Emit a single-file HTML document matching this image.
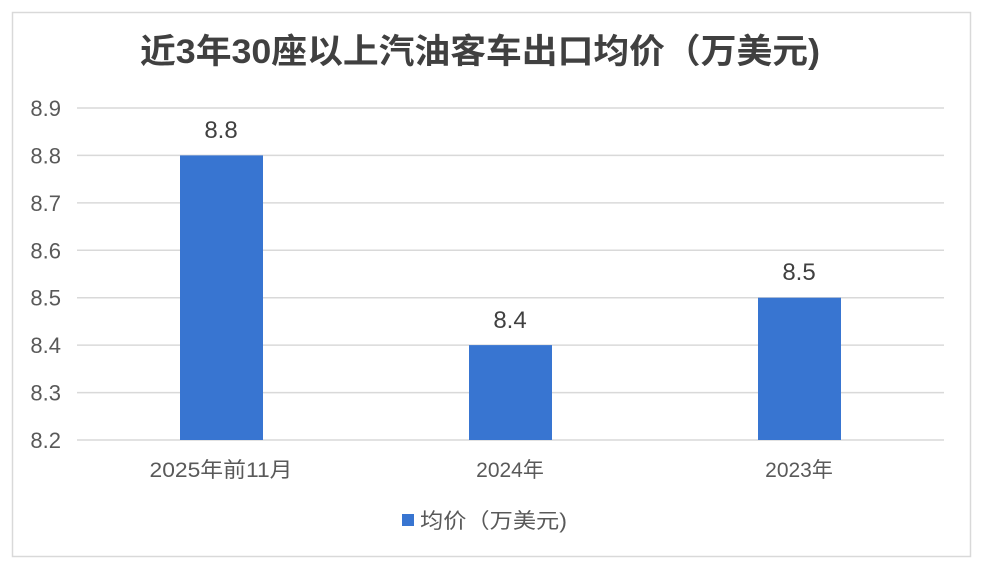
<!DOCTYPE html>
<html><head><meta charset="utf-8"><style>
body{margin:0;background:#fff;width:984px;height:574px;overflow:hidden}
svg text{font-family:"Liberation Sans","Noto Sans CJK SC",sans-serif}
</style></head><body>
<svg width="984" height="574" xmlns="http://www.w3.org/2000/svg">
<rect x="12.5" y="12.5" width="958" height="544" fill="#fff" stroke="#d9d9d9" stroke-width="1.5"/>
<text x="480" y="63" text-anchor="middle" font-size="34" font-weight="bold" fill="#404040" textLength="680" lengthAdjust="spacingAndGlyphs">近3年30座以上汽油客车出口均价（万美元)</text>
<g stroke="#d9d9d9" stroke-width="1.5">
<line x1="77" x2="944" y1="108" y2="108"/>
<line x1="77" x2="944" y1="155.4" y2="155.4"/>
<line x1="77" x2="944" y1="202.9" y2="202.9"/>
<line x1="77" x2="944" y1="250.3" y2="250.3"/>
<line x1="77" x2="944" y1="297.7" y2="297.7"/>
<line x1="77" x2="944" y1="345.1" y2="345.1"/>
<line x1="77" x2="944" y1="392.6" y2="392.6"/>
<line x1="77" x2="944" y1="440" y2="440"/>
</g>
<g font-size="22" fill="#595959" text-anchor="end">
<text x="61" y="116">8.9</text><text x="61" y="163.4">8.8</text><text x="61" y="210.9">8.7</text><text x="61" y="258.3">8.6</text><text x="61" y="305.7">8.5</text><text x="61" y="353.1">8.4</text><text x="61" y="400.6">8.3</text><text x="61" y="448">8.2</text>
</g>
<g fill="#3875d1">
<rect x="180" y="155.4" width="83" height="284.6"/>
<rect x="469" y="345.1" width="83" height="94.9"/>
<rect x="758" y="297.7" width="83" height="142.3"/>
</g>
<g font-size="24" fill="#404040" text-anchor="middle">
<text x="221" y="138">8.8</text><text x="510" y="328">8.4</text><text x="799" y="280">8.5</text>
</g>
<g font-size="21" fill="#595959" text-anchor="middle">
<text x="221" y="477" textLength="143" lengthAdjust="spacingAndGlyphs">2025年前11月</text><text x="510" y="477">2024年</text><text x="799" y="477">2023年</text>
</g>
<rect x="402" y="514" width="12" height="12" fill="#3875d1"/>
<text x="420" y="528" font-size="21" fill="#595959" textLength="147" lengthAdjust="spacingAndGlyphs">均价（万美元)</text>
</svg>
</body></html>
